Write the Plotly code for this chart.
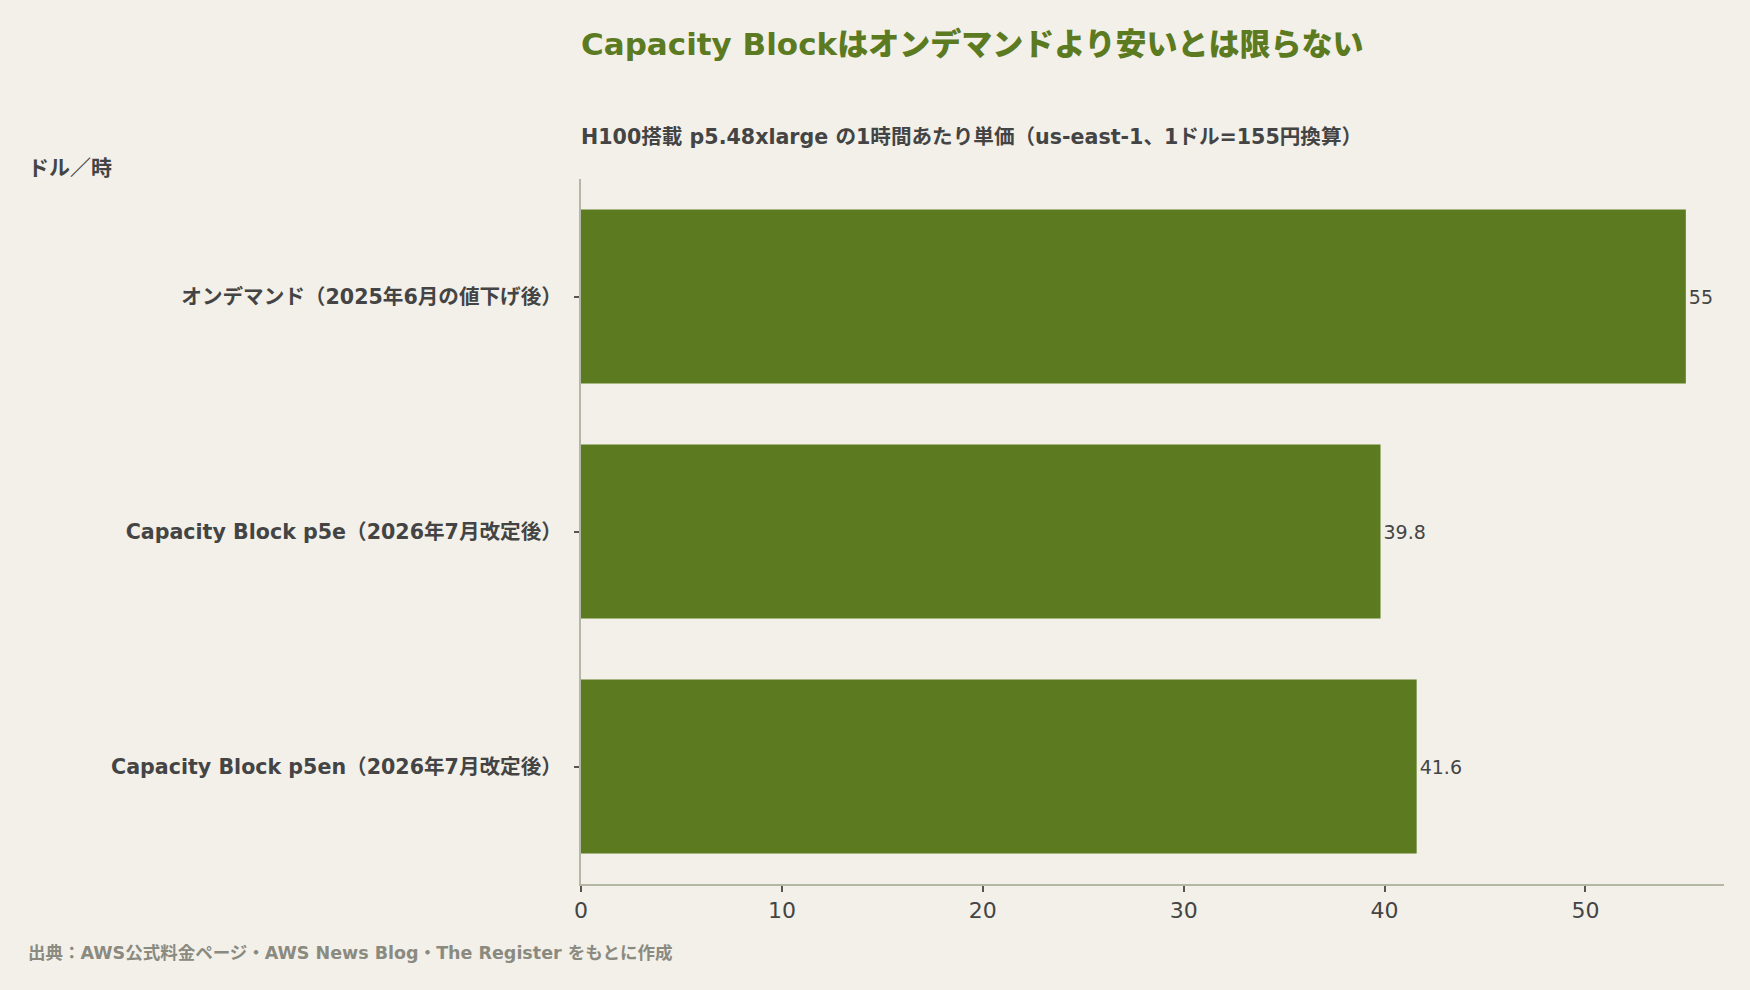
import plotly.graph_objects as go

# data
categories = [
    "オンデマンド（2025年6月の値下げ後）",
    "Capacity Block p5e（2026年7月改定後）",
    "Capacity Block p5en（2026年7月改定後）",
]
prices = [55, 39.8, 41.6]
x_ticks = [0, 10, 20, 30, 40, 50]

title_text = "Capacity Blockはオンデマンドより安いとは限らない"
subtitle_text = "H100搭載 p5.48xlarge の1時間あたり単価（us-east-1、1ドル=155円換算）"
unit_text = "ドル／時"
source_text = "出典：AWS公式料金ページ・AWS News Blog・The Register をもとに作成"

# wide latin glyphs first, CJK falls back to Noto
FONT = "DejaVu Sans, Noto Sans CJK JP"
GREEN = "#5c7a1f"
INK = "#444444"
BG = "#f2f0e9"
AXIS = "#b3b8a6"

fig = go.Figure()
fig.add_trace(go.Bar(
    x=prices,
    y=categories,
    orientation="h",
    marker=dict(color=GREEN, line=dict(width=0)),
    text=prices,
    texttemplate="%{x}",
    textposition="outside",
    textfont=dict(family=FONT, size=19, color=INK),
    cliponaxis=False,
    hoverinfo="skip",
))

# plot area is 1143 x 705 px, paper coordinates below come from pixel positions
fig.add_annotation(text=title_text, xref="paper", yref="paper", x=-0.002, y=1.192,
                   xanchor="left", yanchor="middle", showarrow=False,
                   font=dict(family=FONT, size=31, color=GREEN, weight=900))
fig.add_annotation(text=subtitle_text, xref="paper", yref="paper", x=-0.002, y=1.06,
                   xanchor="left", yanchor="middle", showarrow=False,
                   font=dict(family=FONT, size=20.6, color=INK, weight=700))
fig.add_annotation(text=unit_text, xref="paper", yref="paper", x=-0.4855, y=1.015,
                   xanchor="left", yanchor="middle", showarrow=False,
                   font=dict(family=FONT, size=21, color=INK, weight=700))
fig.add_annotation(text=source_text, xref="paper", yref="paper", x=-0.4855, y=-0.0975,
                   xanchor="left", yanchor="middle", showarrow=False,
                   font=dict(family=FONT, size=17.5, color="#8a8a80", weight=700))

fig.update_layout(
    width=1750,
    height=990,
    margin=dict(l=581, r=26, t=179, b=106),
    paper_bgcolor=BG,
    plot_bgcolor=BG,
    bargap=0.26,
    showlegend=False,
    font=dict(family=FONT, color=INK),
    xaxis=dict(
        range=[0, 56.9],
        tickvals=x_ticks,
        showgrid=False,
        zeroline=False,
        showline=True,
        linecolor=AXIS,
        linewidth=2,
        ticks="outside",
        ticklen=6,
        tickwidth=1.5,
        tickcolor="#555555",
        tickfont=dict(family=FONT, size=22, color=INK),
    ),
    yaxis=dict(
        autorange="reversed",
        showgrid=False,
        zeroline=False,
        showline=True,
        linecolor=AXIS,
        linewidth=2,
        ticks="outside",
        ticklen=5,
        tickwidth=1.5,
        tickcolor="#555555",
        ticklabelstandoff=8,
        tickfont=dict(family=FONT, size=20.6, color=INK, weight=700),
    ),
)

fig.write_html("out.html", config={"displayModeBar": False},
               post_script="document.body.style.margin='0';")
